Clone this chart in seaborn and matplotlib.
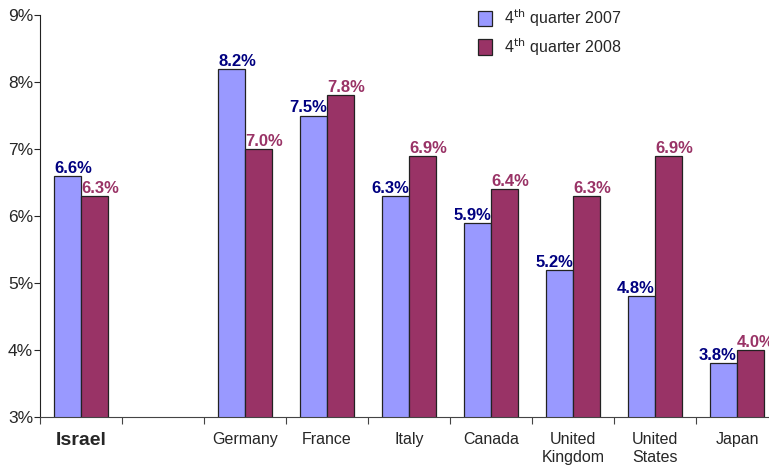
import pandas as pd
import numpy as np
import matplotlib
matplotlib.use("Agg")
import matplotlib.pyplot as plt
import seaborn as sns
from matplotlib.ticker import FixedLocator, FuncFormatter

# data
countries = ["Israel", " ", "Germany", "France", "Italy", "Canada",
             "United\nKingdom", "United\nStates", "Japan"]
q4_2007 = [6.6, np.nan, 8.2, 7.5, 6.3, 5.9, 5.2, 4.8, 3.8]
q4_2008 = [6.3, np.nan, 7.0, 7.8, 6.9, 6.4, 6.3, 6.9, 4.0]
series_names = ["4$^{\\mathrm{th}}$ quarter 2007", "4$^{\\mathrm{th}}$ quarter 2008"]

bar_colors = ["#9999FF", "#993366"]
label_colors = ["#000080", "#993366"]

rows = []
for c, a, b in zip(countries, q4_2007, q4_2008):
    if not np.isnan(a):
        rows.append({"Country": c, "Series": series_names[0], "Rate": a})
        rows.append({"Country": c, "Series": series_names[1], "Rate": b})
df = pd.DataFrame(rows)

sns.set_style("white")
plt.rcParams["font.family"] = ["Liberation Sans", "DejaVu Sans"]

fig = plt.figure(figsize=(7.69, 4.66), dpi=100)
ax = fig.add_axes([40 / 769, 49 / 466, 738 / 769, 402 / 466])

sns.barplot(data=df, x="Country", y="Rate", hue="Series", order=countries,
            hue_order=series_names, palette=bar_colors, width=0.65,
            edgecolor="#222222", linewidth=0.9, saturation=1, ax=ax)

ax.set_ylim(3, 9)
ax.set_xlim(-0.5, len(countries) - 0.5)

# value labels: the 2008 label sits from the bar's left edge, the 2007 label
# ends at the bar's right edge unless that bar is the taller one
blue_bars, red_bars = ax.containers[0], ax.containers[1]
for pb, pr in zip(blue_bars, red_bars):
    hb, hr = pb.get_height(), pr.get_height()
    if hb > hr:
        xb, hab = pb.get_x(), "left"
    else:
        xb, hab = pb.get_x() + pb.get_width(), "right"
    ax.annotate(f"{hb:.1f}%", (xb, hb), xytext=(0, 0), textcoords="offset points",
                ha=hab, va="bottom", color=label_colors[0], fontsize=12,
                fontweight="bold")
    ax.annotate(f"{hr:.1f}%", (pr.get_x(), hr), xytext=(0, 0),
                textcoords="offset points", ha="left", va="bottom",
                color=label_colors[1], fontsize=12, fontweight="bold")

ax.set_yticks(range(3, 10))
ax.yaxis.set_major_formatter(FuncFormatter(lambda v, p: f"{v:.0f}%"))
ax.tick_params(axis="y", labelsize=12.5, length=4, width=0.8, direction="out",
               left=True, pad=1)

ax.set_xticks(range(len(countries)))
ax.set_xticklabels(countries, fontsize=11.5, linespacing=1.25)
ax.xaxis.set_minor_locator(FixedLocator(np.arange(-0.5, len(countries), 1)))
ax.tick_params(axis="x", which="major", length=0, pad=11)
ax.tick_params(axis="x", which="minor", length=5, width=0.8, bottom=True,
               direction="out", color="#444444")
for t in ax.get_xticklabels():
    t.set_verticalalignment("top")
    if t.get_text() == "Israel":
        t.set_fontweight("bold")
        t.set_fontsize(14)

ax.set_xlabel("")
ax.set_ylabel("")
for side in ["top", "right"]:
    ax.spines[side].set_visible(False)
ax.spines["left"].set_color("#222222")
ax.spines["bottom"].set_color("#444444")

leg = ax.legend(loc="upper left", bbox_to_anchor=(478 / 769, 1 - 7 / 466),
                bbox_transform=fig.transFigure, frameon=False, borderpad=0,
                borderaxespad=0, fontsize=11.5, handlelength=0.85,
                handleheight=1.1, labelspacing=0.45, handletextpad=0.8)

fig.savefig("out.png", dpi=100)
